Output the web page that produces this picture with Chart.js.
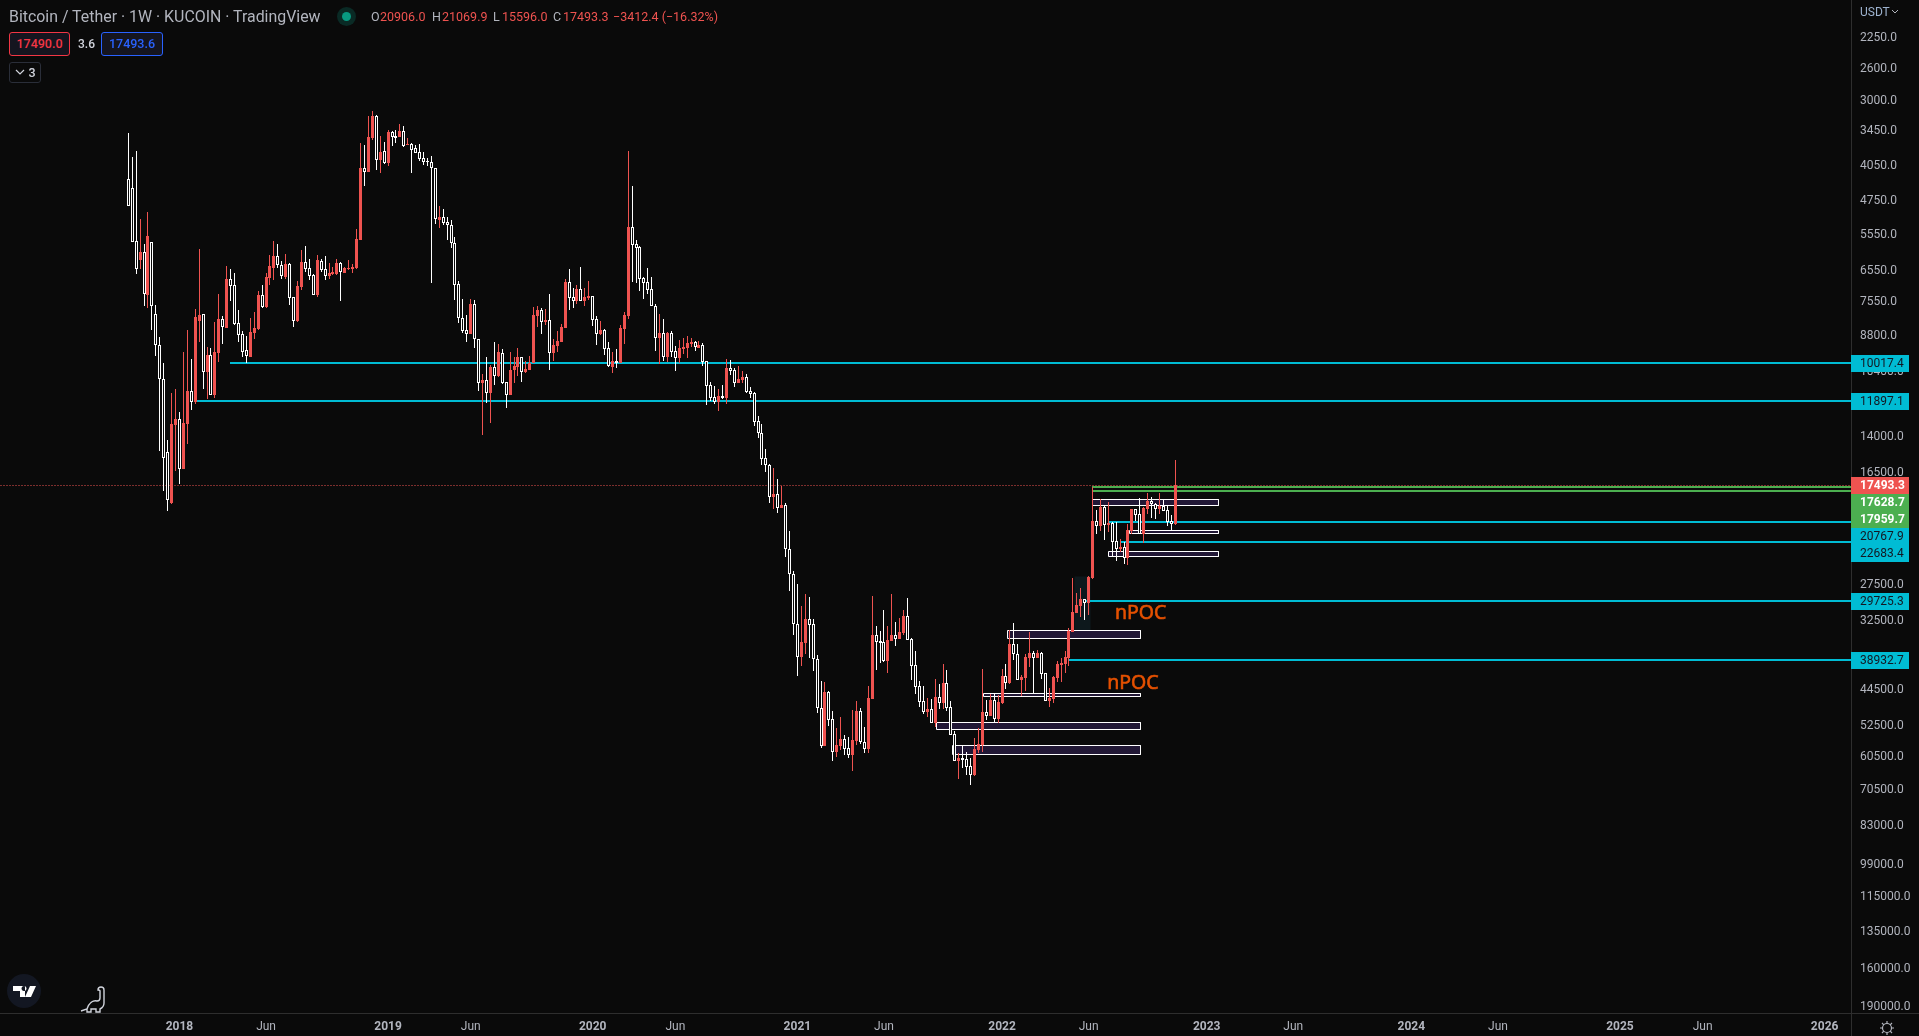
<!DOCTYPE html>
<html>
<head>
<meta charset="utf-8">
<title>BTCUSDT 1W</title>
<script src="https://cdn.jsdelivr.net/npm/chart.js@4"></script>
<style>
html, body { margin: 0; padding: 0; width: 1919px; height: 1036px; overflow: hidden; background: #0a0a0a; }
body { font-family: Roboto, sans-serif; position: relative; }
canvas { position: absolute; left: 0; top: 0; }
.t { position: absolute; white-space: nowrap; line-height: 16px; }
.box { position: absolute; box-sizing: border-box; border-radius: 3px; text-align: center; font-size: 12.5px; font-weight: 500; line-height: 21px; }
.red { color: #ef5350; }
</style>
</head>
<body>
<canvas id="myChart" width="1919" height="1036"></canvas>

<div class="t" style="left:9px;top:9px;font-size:15.9px;color:#b2b5be">Bitcoin / Tether · 1W · KUCOIN · TradingView</div>
<div style="position:absolute;left:337px;top:7px;width:19px;height:19px;border-radius:50%;background:#0a2a25"></div>
<div style="position:absolute;left:342px;top:12px;width:9px;height:9px;border-radius:50%;background:#089981"></div>
<div class="t" style="left:371px;top:9px;font-size:12.5px;color:#b2b5be">O</div>
<div class="t red" style="left:380px;top:9px;font-size:12.5px">20906.0</div>
<div class="t" style="left:432px;top:9px;font-size:12.5px;color:#b2b5be">H</div>
<div class="t red" style="left:442px;top:9px;font-size:12.5px">21069.9</div>
<div class="t" style="left:493px;top:9px;font-size:12.5px;color:#b2b5be">L</div>
<div class="t red" style="left:502px;top:9px;font-size:12.5px">15596.0</div>
<div class="t" style="left:553px;top:9px;font-size:12.5px;color:#b2b5be">C</div>
<div class="t red" style="left:563px;top:9px;font-size:12.5px">17493.3</div>
<div class="t red" style="left:613px;top:9px;font-size:12.5px">−3412.4 (−16.32%)</div>

<div class="box" style="left:9px;top:32px;width:61px;height:24px;border:1px solid #f23645;background:#15151f;color:#f23645">17490.0</div>
<div class="t" style="left:78px;top:36px;font-size:12px;font-weight:500;color:#d1d4dc">3.6</div>
<div class="box" style="left:101px;top:32px;width:62px;height:24px;border:1px solid #2962ff;background:#15151f;color:#2962ff">17493.6</div>
<div class="box" style="left:9px;top:62px;width:32px;height:21px;border:1px solid #2a2e39;color:#d1d4dc;line-height:19px;padding-left:14px">3</div>
<svg style="position:absolute;left:15px;top:68px" width="10" height="8" viewBox="0 0 10 8" fill="none" stroke="#d1d4dc" stroke-width="1.2"><path d="M1 2l4 4 4-4"/></svg>

<div class="t" style="left:1860px;top:4px;font-size:12px;color:#9db2ce">USDT</div>
<svg style="position:absolute;left:1891px;top:9px" width="8" height="6" viewBox="0 0 8 6" fill="none" stroke="#b2b5be" stroke-width="1"><path d="M1 1l3 3 3-3"/></svg>

<svg style="position:absolute;left:6px;top:973px" width="36" height="36" viewBox="0 0 36 36">
  <circle cx="18" cy="18" r="17" fill="#131722"/>
  <path d="M7 13h12v11h-5v-6H7zM24 13h6l-5 11h-6z M18 13a2.5 2.5 0 1 0 .01 0" fill="#fff"/>
</svg>
<svg style="position:absolute;left:80px;top:986px" width="27" height="28" viewBox="0 0 27 28" fill="none" stroke="#d1d4dc" stroke-width="1.4">
  <path d="M1 25l6-2c2-6 6-9 10-8 2 0 3-1 3-3V5c0-1-1-1-2-1 0-2 1-3 3-3s3 1 3 3v13c0 3-2 5-4 6v3h-4v-3h-5v3H7v-3"/>
</svg>
<svg style="position:absolute;left:1879px;top:1020px" width="16" height="16" viewBox="0 0 16 16" fill="none" stroke="#b2b5be" stroke-width="1.2">
  <circle cx="8" cy="8" r="4.5"/>
  <path d="M8 1v2.5M8 12.5V15M1 8h2.5M12.5 8H15M3 3l1.8 1.8M11.2 11.2L13 13M3 13l1.8-1.8M11.2 4.8L13 3"/>
</svg>

<script>
// weekly candles, first bar is week 0 (2 Oct 2017)
const opens = [
    4322,4505,5741,6252,6036,7338,5767,8017,9239,10795,
    15074,19037,13301,12961,16269,13220,11401,11953,8253,8017,
    10422,9672,11577,9555,8190,8522,6820,7021,8355,8785,
    9452,9731,8718,8574,7349,7765,6779,6476,6138,6387,
    6748,6367,7417,8278,7064,6319,6495,6707,7338,6290,
    6525,6717,6666,6666,6348,6635,6515,6515,6486,5697,
    4109,4179,3577,3234,3956,3803,4011,3480,3544,3560,
    3469,3693,3676,3750,3820,3926,3974,3998,4109,5206,
    5143,5262,5334,5793,6989,8165,8613,8772,7659,8988,
    10975,10845,11488,10202,10632,9584,10942,11594,10343,10202,
    9761,10438,10343,10033,8078,7860,8304,8240,9555,9268,
    9098,8535,6925,7417,7542,7150,7542,7440,7383,8203,
    8772,8626,9367,10202,9926,10018,8574,8078,5383,5820,
    5900,6800,6925,7150,7730,8934,8745,9746,8745,9497,
    9791,9396,9353,9183,9098,9353,9225,9941,11093,11719,
    11953,11648,11754,10264,10358,10975,10828,10680,11401,11506,
    13080,13818,15494,15973,18493,18270,19448,19213,23500,26350,
    33130,38470,36025,32326,33130,38880,48655,57812,45153,51170,
    59423,57812,56077,58435,60245,56508,49256,56860,58614,46620,
    34833,35807,35916,39180,35750,34833,35425,34465,31885,35425,
    39965,43996,47125,49480,48880,52035,46198,47483,43330,48435,
    54807,61920,61173,61450,63453,66015,58881,57550,49480,50396,
    46907,51090,47483,41960,43330,36300,37943,42739,42350,38645,
    37770,38645,37770,41454,47050,46620,42350,39905,39720,38645,
    34310,31450,30460,29545,30043,26795,20670,21120,19360,21020,
    20830,22655,23460,23250,24450,21608,19538,19990,21905,19538,
    18864,19095,19538,19271,19656,20670,20906
];
const closes = [
    4875,5750,6525,6036,7316,5602,7705,9211,10795,15448,
    18720,13241,12941,16244,13180,11384,11953,8115,8042,10422,
    9657,11577,9526,8190,8483,6820,7032,8368,8799,9511,
    9686,8692,8535,7338,7753,6758,6426,6138,6387,6717,
    6367,7428,8253,7042,6309,6505,6738,7327,6252,6535,
    6738,6635,6605,6338,6615,6486,6486,6456,5680,4103,
    4173,3560,3234,3950,3814,4011,3480,3555,3577,3464,
    3705,3676,3773,3826,3938,3992,3998,4109,5174,5135,
    5270,5334,5793,7000,8165,8652,8758,7647,8988,10959,
    10828,11471,10202,10632,9526,10975,11577,10343,10156,9746,
    10438,10295,10033,8042,7860,8291,8228,9555,9225,9057,
    8496,6915,7428,7542,7140,7531,7405,7372,8215,8758,
    8613,9381,10171,9926,10018,8535,8042,5375,5829,5909,
    6810,6936,7161,7730,8921,8732,9731,8732,9526,9776,
    9353,9310,9141,9098,9324,9225,9956,11109,11754,11953,
    11648,11737,10249,10374,10959,10778,10680,11453,11541,13100,
    13818,15518,15998,18465,18242,19418,19183,23500,26350,33130,
    38409,35916,32326,33175,38880,48655,57723,45153,51246,59333,
    57550,55990,58525,60155,56247,49256,56860,58525,46410,34780,
    35860,36025,39180,35588,34780,35425,34310,31885,35534,40025,
    44063,47195,49405,48806,52035,46198,47410,43330,48584,54888,
    61827,61080,61545,63549,66015,58614,57287,49480,50320,46836,
    51090,47270,41960,43265,36245,38000,42739,42155,38470,37770,
    38645,37770,41517,46978,46410,42155,39720,39540,38470,34150,
    31308,30320,29500,29998,26672,20640,21090,19360,21020,20863,
    22690,23460,23250,24450,21509,19538,20080,21905,19450,18835,
    19125,19538,19271,19715,20736,20906,17493.3
];
const lows = [
    3496,3902,3797,5182,5811,5020,5767,7682,8893,10018,
    14246,11488,11280,12533,9526,8613,9836,7824,5945,8017,
    9310,9353,8304,7305,8078,6426,6515,6635,7860,8665,
    8853,8153,7932,7205,7010,6635,6110,5732,5811,6290,
    6082,6338,7417,6883,5972,5864,6223,6676,6110,6223,
    6138,6338,6456,6223,6319,6456,6252,6367,5425,3660,
    3693,3234,3158,3220,3544,3643,3448,3464,3448,3355,
    3386,3577,3660,3693,3676,3814,3920,3884,4103,4883,
    4951,5135,5206,5628,6883,7474,8042,7474,7508,8975,
    10534,9746,10110,9098,9183,9396,10925,9526,9746,9353,
    9746,9926,9701,7753,7718,7788,7824,7305,8975,8652,
    8381,6820,6515,7107,7010,6456,7107,6883,7372,8078,
    8266,8574,9098,9526,9396,8419,7932,3797,4456,5706,
    5864,6758,6486,6758,7647,8005,8190,8692,8652,9268,
    9016,8934,8853,8934,9057,9057,9141,9926,10925,11126,
    11280,11075,9836,9881,10249,10156,10390,10534,11177,11436,
    12764,13241,14846,15900,16192,17004,17585,19037,21608,25950,
    27540,30460,28830,29230,32326,38118,42935,43132,44945,49256,
    53240,50627,54975,55480,49030,47050,48584,52997,43930,29095,
    33380,34150,31022,33380,28830,32770,32180,31022,29365,35265,
    37430,42935,43930,46410,46620,42545,43530,39720,40827,47050,
    53977,59696,57812,59423,61080,55735,53240,40640,46836,45570,
    45429,45775,40640,39720,33996,32924,36245,41770,37943,34310,
    37430,37255,37600,41390,44335,41960,39180,38645,37430,33690,
    26795,28700,28050,29500,26550,17639,19627,18665,19183,18920,
    20736,20736,22410,22725,20926,19538,19538,18575,19360,18160,
    18495,19008,18160,18749,19183,20080,15596
];
const highs = [
    4875,5750,6660,6515,7705,7776,8600,9686,14959,17965,
    19687,19095,16393,17398,16294,14510,12418,12063,9085,11263,
    11790,11577,11737,9972,9169,8548,7542,8406,9085,9731,
    10003,9731,8961,8600,7776,7776,7010,6851,6486,6820,
    6820,7682,8496,8304,7172,6595,6851,7327,7394,6595,
    6851,6820,6696,6696,7531,6635,6545,6635,6515,5697,
    4456,4179,3610,4141,4198,4029,4066,3711,3660,3560,
    3722,3693,4198,3837,3974,4047,4066,6946,5302,5400,
    5326,5706,5918,7508,8342,8732,9098,8772,9353,11384,
    13948,12027,13180,11075,10680,11025,12304,11594,10975,10632,
    10925,10486,10343,10033,8496,8772,8419,10343,9926,9526,
    9098,8535,7860,7788,7647,7542,7718,7508,8457,9225,
    8812,9657,10202,10486,10249,10018,9183,8190,6915,6946,
    7205,7474,7305,7730,9482,10064,9926,9972,9746,10390,
    10018,9613,9791,9310,9482,9353,10156,12137,11916,12082,
    12475,11808,12082,10583,11177,10975,10975,11488,11754,13362,
    14117,15973,16494,19008,19538,19899,19448,24302,28440,34780,
    41960,40085,37943,38645,41015,49708,58345,57812,52750,61920,
    60800,58881,60245,61080,64820,57550,57287,59696,59696,46620,
    40827,39540,39360,41390,35750,36580,35425,34780,35588,42739,
    45570,48360,49936,50627,52035,52997,48806,48806,49256,54975,
    61920,67240,63938,66015,69060,66320,59696,59423,51326,50396,
    51800,52035,47700,44535,43530,39000,42739,45980,44945,40270,
    45360,38645,42545,46978,48360,47483,43132,43132,41390,40085,
    34310,31450,32030,32475,31740,26920,21905,21608,22517,21710,
    24302,24790,23790,25130,25250,21905,20640,21905,22830,19990,
    20360,20455,19990,19715,21120,21509,21069.9
];

const priceTicks = [2250,2600,3000,3450,4050,4750,5550,6550,7550,8800,10400,12000,14000,16500,19500,23000,
    27500,32500,38500,44500,52500,60500,70500,83000,99000,115000,135000,160000,190000];
const timeTickWeeks = [13,35,66,87,118,139,170,192,222,244,274,296,326,348,379,400,431];
const timeTickLabels = ['2018','Jun','2019','Jun','2020','Jun','2021','Jun','2022','Jun','2023','Jun','2024','Jun','2025','Jun','2026'];

// horizontal levels and the week they start on
const cyanLevels = [10017.4,11897.1,20767.9,22683.4,29725.3,38932.7];
const cyanStarts = [26,17,249,252,243,239];
const greenLevels = [17628.7,17959.7];
const greenStart = 245;
const lastPrice = 17493.3;

// rectangles
const boxStarts = [245,254.5,249,223.3,217.3,205.3,209.3];
const boxEnds = [277,277,277,257.3,257.3,257.3,257.3];
const boxLows = [18692,21509,23717,34049,45429,51875,57640];
const boxHighs = [19155,21775,24190,35210,45917,53570,60065];

const noteTexts = ['nPOC','nPOC'];
const noteWeeks = [250.7,248.7];
const notePrices = [32370,44600];

const weekMin = -32.6;
const weekMax = 437.7;
const priceMin = 1902;
const priceMax = 196200;

const RED = '#ef5350';
const WHITE = '#ffffff';
const BG = '#0a0a0a';
const CYAN = '#00bcd4';
const GREEN = '#4caf50';

Chart.defaults.font.family = 'Roboto, sans-serif';
Chart.defaults.font.size = 12;

function isUp(i) {
    return closes[i] >= opens[i];
}

function levelLine(level, start, color, order) {
    return {
        type: 'line',
        data: [{x: start, y: level}, {x: weekMax, y: level}],
        borderColor: color,
        borderWidth: 2,
        pointRadius: 0,
        tension: 0,
        order: order
    };
}

function boxShape(x1, x2, y1, y2, border, fill, order) {
    return {
        type: 'line',
        data: [{x: x1, y: y1}, {x: x2, y: y1}, {x: x2, y: y2}, {x: x1, y: y2}, {x: x1, y: y1}],
        borderColor: border,
        backgroundColor: fill,
        borderWidth: 1,
        pointRadius: 0,
        tension: 0,
        fill: 'shape',
        order: order
    };
}

const datasets = [];

datasets.push({
    type: 'bar',
    grouped: false,
    data: opens.map(function(o, i) { return {x: i, y: [o, closes[i]]}; }),
    barThickness: 3,
    borderWidth: 1,
    borderSkipped: false,
    inflateAmount: 0,
    backgroundColor: opens.map(function(o, i) { return isUp(i) ? BG : RED; }),
    borderColor: opens.map(function(o, i) { return isUp(i) ? WHITE : RED; }),
    order: 0
});
datasets.push({
    type: 'bar',
    grouped: false,
    data: lows.map(function(l, i) { return {x: i, y: [l, highs[i]]}; }),
    barThickness: 1,
    borderWidth: 0,
    inflateAmount: 0,
    backgroundColor: opens.map(function(o, i) { return isUp(i) ? WHITE : RED; }),
    order: 1
});

cyanLevels.forEach(function(level, i) {
    datasets.push(levelLine(level, cyanStarts[i], CYAN, 2));
});
greenLevels.forEach(function(level) {
    datasets.push(levelLine(level, greenStart, GREEN, 2));
});

const lastLine = levelLine(lastPrice, weekMin, RED, 2);
lastLine.borderWidth = 1;
lastLine.borderDash = [1, 2];
datasets.push(lastLine);

boxStarts.forEach(function(start, i) {
    datasets.push(boxShape(start, boxEnds[i], boxLows[i], boxHighs[i], WHITE, '#211735', 3));
});
// dark highlight behind the weeks around the 29725 level
datasets.push(boxShape(240.3, 244.4, 26500, 35200, 'rgba(0,0,0,0)', '#0d181c', 4));

// bars and lines land on whole pixels like the original
const snapPixels = {
    id: 'snapPixels',
    afterDatasetsUpdate: function(chart) {
        chart.getSortedVisibleDatasetMetas().forEach(function(meta) {
            const width = meta.dataset ? meta.dataset.options.borderWidth : 0;
            meta.data.forEach(function(el) {
                if (meta.type === 'bar') {
                    el.x = Math.floor(el.x) + 0.5;
                    el.y = Math.round(el.y);
                    el.base = Math.round(el.base);
                    if (el.y === el.base) {
                        el.base = el.y + 1;
                    }
                } else {
                    const off = width % 2 ? 0.5 : 0;
                    el.x = Math.floor(el.x) + off;
                    el.y = Math.round(el.y) + off;
                }
            });
        });
    }
};

// price tags on the axis, notes and the part of the axis lines outside the plot
const overlays = {
    id: 'overlays',
    afterDraw: function(chart) {
        const ctx = chart.ctx;
        const sx = chart.scales.x;
        const sy = chart.scales.y;
        const right = chart.chartArea.right;
        const bottom = chart.chartArea.bottom;

        ctx.save();
        ctx.strokeStyle = '#2e2e2e';
        ctx.lineWidth = 1;
        ctx.beginPath();
        ctx.moveTo(right, bottom + 0.5);
        ctx.lineTo(1919, bottom + 0.5);
        ctx.moveTo(right + 0.5, bottom);
        ctx.lineTo(right + 0.5, 1036);
        ctx.stroke();

        ctx.fillStyle = '#e65100';
        ctx.strokeStyle = '#e65100';
        ctx.lineWidth = 0.6;
        ctx.font = '19.5px "Noto Sans"';
        ctx.textAlign = 'left';
        ctx.textBaseline = 'alphabetic';
        noteTexts.forEach(function(t, i) {
            const nx = sx.getPixelForValue(noteWeeks[i]);
            const ny = sy.getPixelForValue(notePrices[i]);
            ctx.fillText(t, nx, ny);
            ctx.strokeText(t, nx, ny);
        });

        const tags = cyanLevels.map(function(v) { return {v: v, bg: CYAN, fg: '#131722', font: '12px Roboto'}; })
            .concat(greenLevels.map(function(v) { return {v: v, bg: GREEN, fg: WHITE, font: 'bold 12px Roboto'}; }))
            .concat([{v: lastPrice, bg: RED, fg: WHITE, font: 'bold 12px Roboto'}]);
        tags.sort(function(a, b) { return a.v - b.v; });

        let prev = -100;
        ctx.textBaseline = 'middle';
        tags.forEach(function(tag) {
            let y = Math.round(sy.getPixelForValue(tag.v));
            if (y < prev + 17) {
                y = prev + 17;
            }
            prev = y;
            ctx.fillStyle = tag.bg;
            ctx.fillRect(right, y - 8, 58, 17);
            ctx.fillStyle = tag.fg;
            ctx.font = tag.font;
            ctx.fillText(tag.v.toFixed(1), 1860, y + 1);
        });
        ctx.restore();
    }
};

const myChart = new Chart(document.getElementById('myChart'), {
    type: 'bar',
    data: {datasets: datasets},
    plugins: [snapPixels, overlays],
    options: {
        responsive: false,
        animation: false,
        devicePixelRatio: 1,
        layout: {padding: 0},
        plugins: {legend: {display: false}, tooltip: {enabled: false}, title: {display: false}},
        events: [],
        scales: {
            x: {
                type: 'linear',
                offset: false,
                min: weekMin,
                max: weekMax,
                grid: {display: false, drawTicks: false},
                border: {color: '#2e2e2e'},
                afterBuildTicks: function(axis) {
                    axis.ticks = timeTickWeeks.map(function(w) { return {value: w}; });
                },
                afterFit: function(axis) {
                    axis.height = 23;
                    axis.paddingLeft = 0;
                    axis.paddingRight = 0;
                },
                ticks: {
                    autoSkip: false,
                    maxRotation: 0,
                    padding: 7,
                    color: '#b2b5be',
                    font: function(c) {
                        return {weight: c.index % 2 === 0 ? 'bold' : 'normal', size: 12};
                    },
                    callback: function(value, index) {
                        return timeTickLabels[index];
                    }
                }
            },
            y: {
                type: 'logarithmic',
                position: 'right',
                reverse: true,
                min: priceMin,
                max: priceMax,
                grid: {display: false, drawTicks: false},
                border: {color: '#2e2e2e'},
                afterBuildTicks: function(axis) {
                    axis.ticks = priceTicks.map(function(p) { return {value: p}; });
                },
                afterFit: function(axis) {
                    axis.width = 68;
                    axis.paddingTop = 0;
                    axis.paddingBottom = 0;
                },
                ticks: {
                    autoSkip: false,
                    padding: 9,
                    labelOffset: 1,
                    crossAlign: 'near',
                    color: '#b2b5be',
                    callback: function(value) {
                        return Number(value).toFixed(1);
                    }
                }
            }
        }
    }
});
</script>
</body>
</html>
